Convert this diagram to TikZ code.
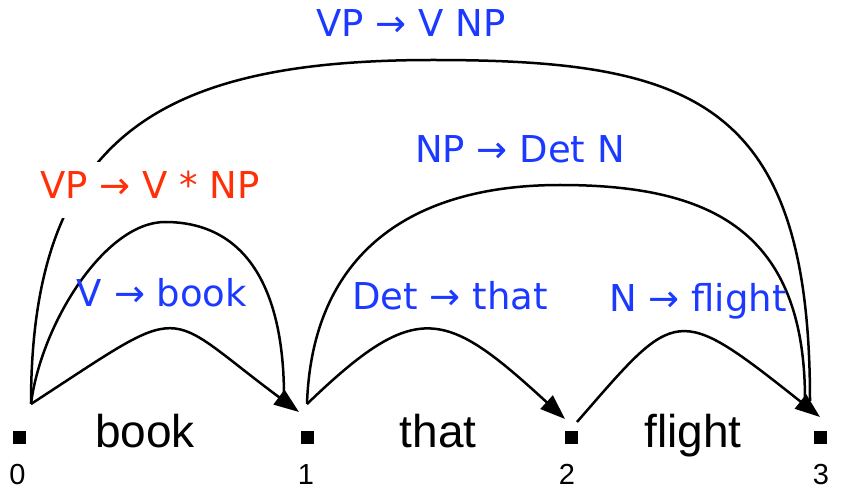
\documentclass[tikz,border=0pt]{standalone}
\usepackage{fontspec}
\setmainfont{Liberation Sans}
\newfontfamily\rulefont{DejaVu Sans}
\usetikzlibrary{arrows.meta,positioning}

\definecolor{ruleblue}{RGB}{28,58,255}
\definecolor{rulered}{RGB}{255,48,8}

\tikzset{
  tok/.style={fill=black,minimum size=13pt,inner sep=0pt},
  word/.style={anchor=base,inner sep=0pt,font=\fontsize{46}{50}\selectfont},
  idx/.style={anchor=base,inner sep=0pt,font=\fontsize{29}{32}\selectfont},
  rulelab/.style={anchor=base,inner sep=0pt,text=ruleblue,font=\rulefont\fontsize{37}{40}\selectfont},
  chart/.style={line width=2.5pt},
  chartarr/.style={chart,-{Triangle[length=25pt,width=18pt]}},
}

\begin{document}
\begin{tikzpicture}[x=1pt,y=1pt]
  \useasboundingbox (0,0) rectangle (855,488);
  % positions between the words
  \node[tok] (n0) at (19,51) {};
  \node[tok] (n1) at (307,51) {};
  \node[tok] (n2) at (571,51) {};
  \node[tok] (n3) at (820,51) {};
  \node[idx] (i0) at (17.5,4) {0};
  \node[idx] (i1) at (306,4) {1};
  \node[idx] (i2) at (567,4) {2};
  \node[idx] (i3) at (821,4) {3};
  \node[word] (w1) at (145,41) {book};
  \node[word] (w2) at (438,41) {that};
  \node[word] (w3) at (693,41) {flight};

  % where the edges leave and enter the positions
  \coordinate (o0) at (31,84);
  \coordinate (o1) at (307,84);
  \coordinate (o2) at (577,66);
  \coordinate (e1) at (299,76);
  \coordinate (e2) at (565,69);
  \coordinate (e3) at (820,71);
  \coordinate (m1) at (284,91);
  \coordinate (m3a) at (805,88);
  \coordinate (m3b) at (810,87);
  % tops of the long edges
  \coordinate (t01) at (165,266);
  \coordinate (t13) at (560,303);
  \coordinate (t03) at (433,428);

  % lexical edges
  \draw[chartarr] (o0) .. controls +(160,104) and +(-140,104) .. (e1);
  \draw[chartarr] (o1) .. controls +(110,106) and +(-120,110) .. (e2);
  \draw[chartarr] (o2) .. controls +(100,115) and +(-145,115) .. (e3);
  % phrase edges, they run into the heads above
  \draw[chart] (o0) .. controls +(10,80) and +(-60,0) .. (t01)
    .. controls +(80,0) and +(0,110) .. (m1);
  \draw[chart] (o1) .. controls +(5,150) and +(-150,0) .. (t13)
    .. controls +(150,0) and +(0,170) .. (m3a);
  \draw[chart] (o0) .. controls +(0,270) and +(-270,0) .. (t03)
    .. controls +(260,0) and +(0,300) .. (m3b);

  % rules
  \node[rulelab] (r1) at (162,181) {V → book};
  \node[rulelab] (r2) at (450,178) {Det → that};
  \node[rulelab] (r3) at (698,176) {N → flight};
  \node[rulelab] (r5) at (520,325) {NP → Det N};
  \node[rulelab] (r6) at (411,451) {VP → V NP};
  \node[rulelab,text=rulered,fill=white,inner xsep=6pt,inner ysep=10pt,
    text depth=9pt] (r4) at (150,289) {VP → V * NP};
\end{tikzpicture}
\end{document}
